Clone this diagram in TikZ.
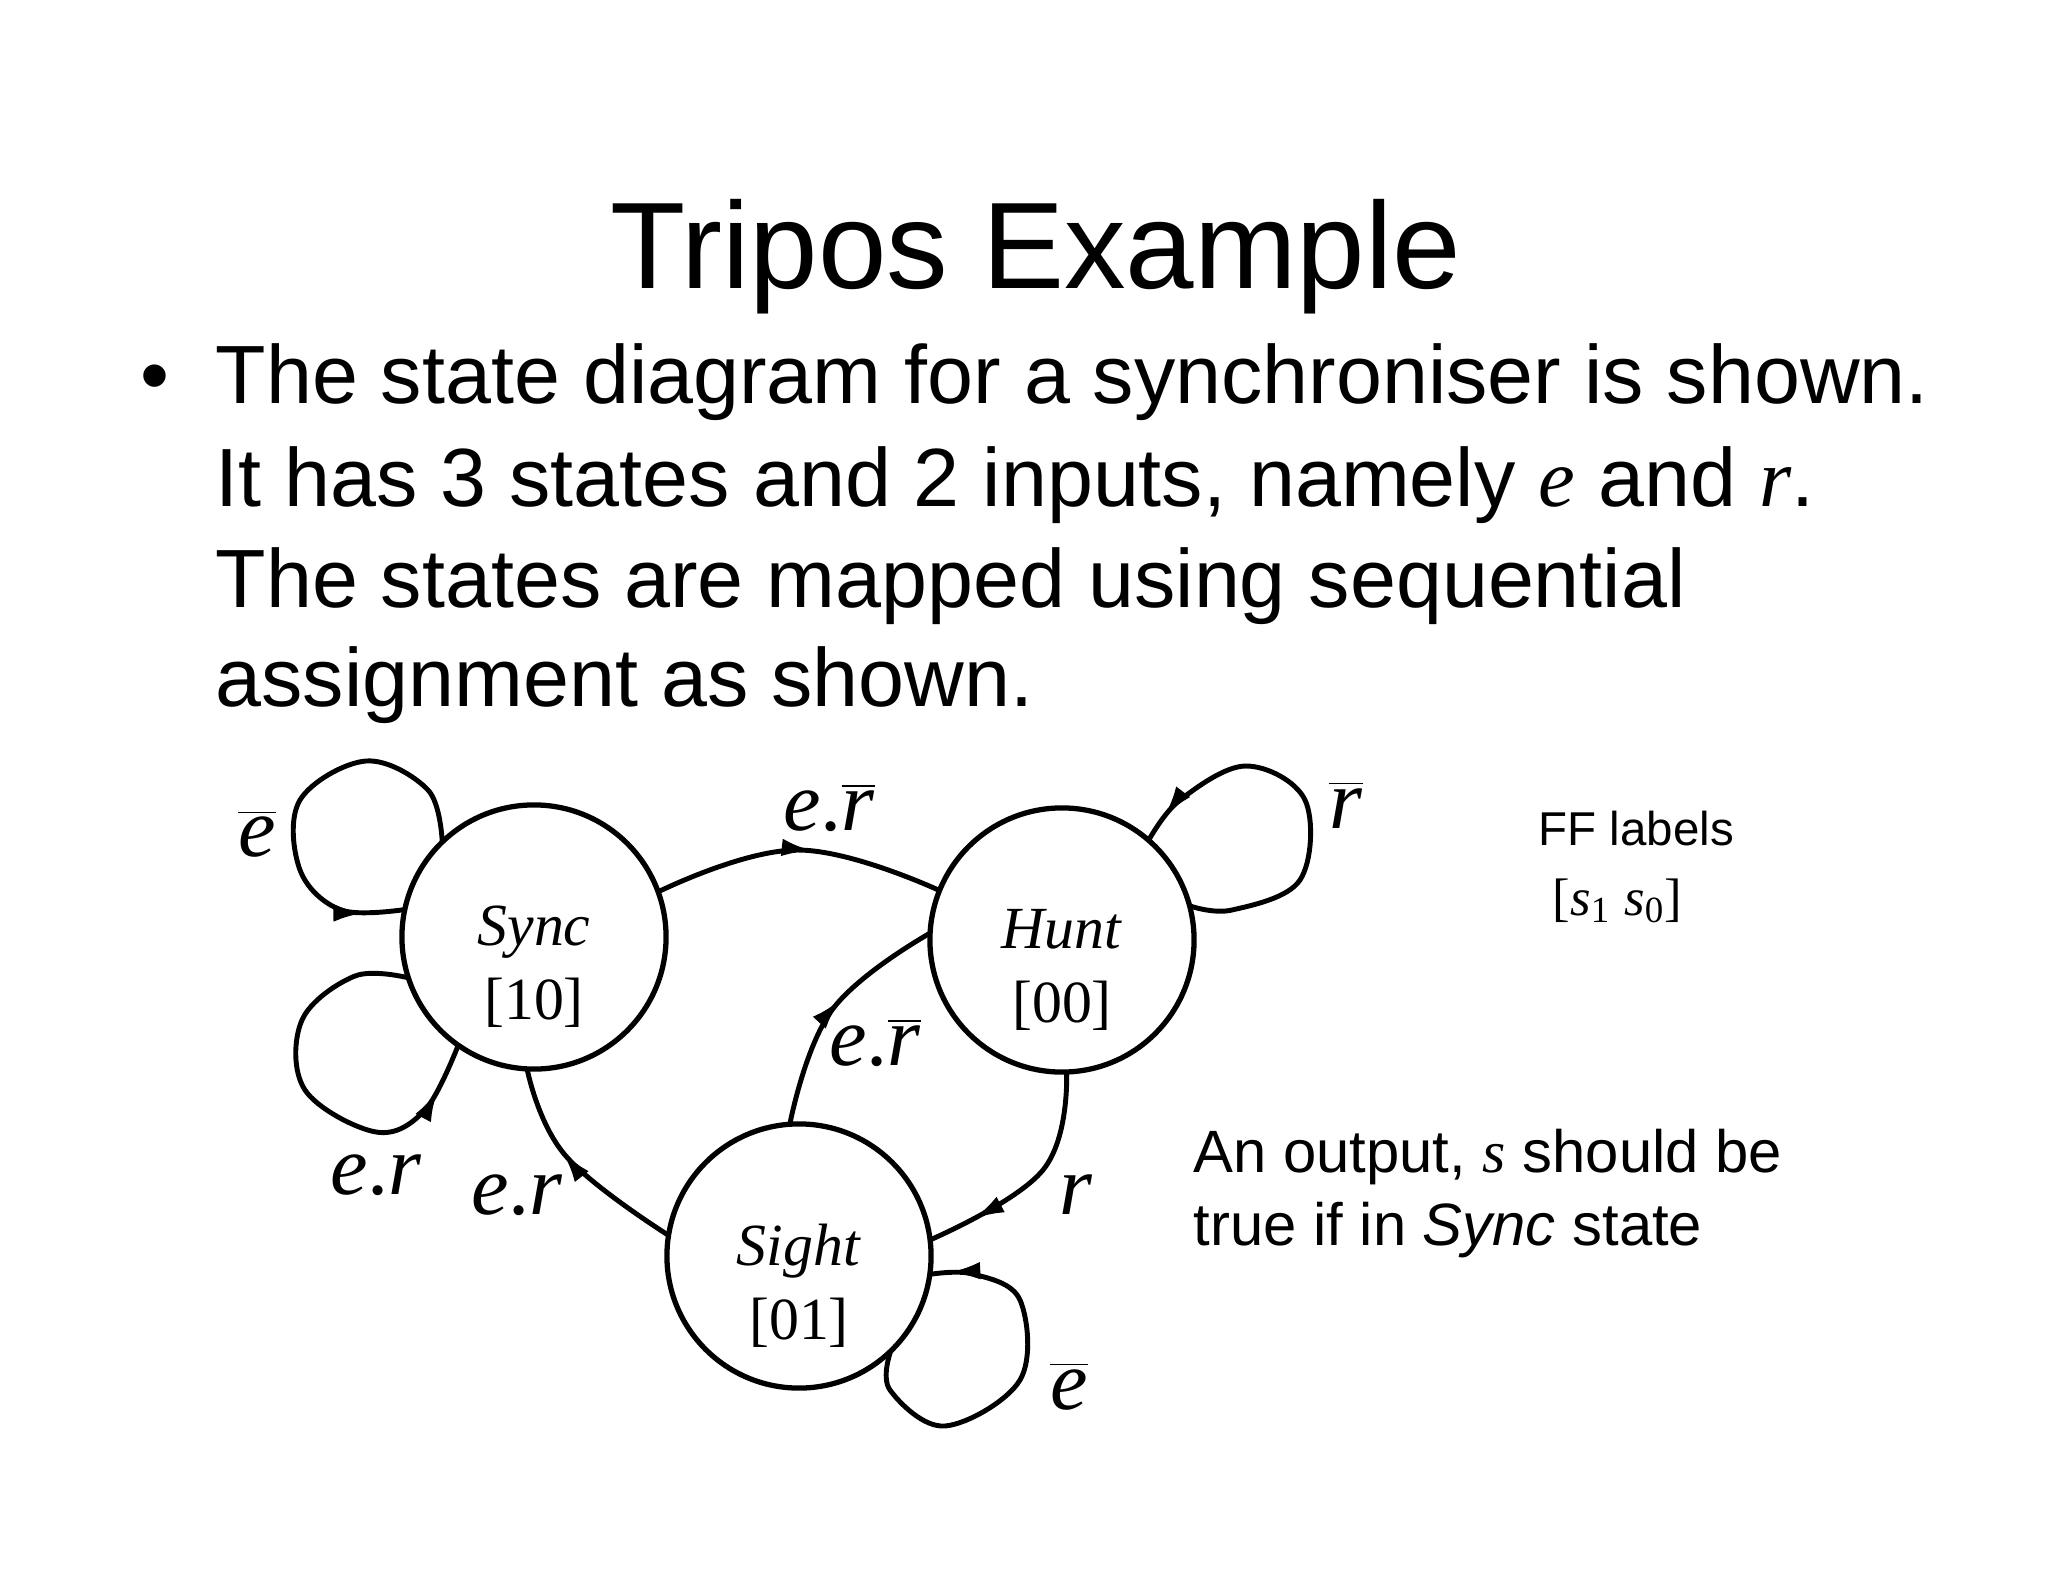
\documentclass[tikz,border=0pt]{standalone}
\usepackage{fontspec}
\setmainfont{Liberation Serif}
\setsansfont{Liberation Sans}
\usetikzlibrary{decorations.markings,arrows.meta}
\newcommand{\ovl}[1]{$\overline{\hbox{\textit{#1}}}$}
\begin{document}
\begin{tikzpicture}[x=0.01cm,y=-0.01cm,
  state/.style={circle,draw,line width=1.5pt,minimum size=2.64cm,inner sep=0,outer sep=0},
  stext/.style={align=center,font=\fontsize{17}{21}\selectfont,yshift=-0.3cm},
  edge/.style={line width=1.4pt,postaction={decorate},decoration={markings,mark=at position #1 with {\arrow{Latex[length=9pt,width=5pt]}}}},
  lab/.style={font=\fontsize{24}{26}\selectfont},
  body/.style={font=\sffamily\fontsize{23.5}{30}\selectfont,anchor=base west,inner sep=0}]
\useasboundingbox (0,0) rectangle (2048,1582);
\node[font=\sffamily\fontsize{35}{44}\selectfont,anchor=base] (title) at (1036,288) {Tripos Example};
\node[body] (bul) at (140,403) {\textbullet};
\node[body] (l1) at (215,403) {The state diagram for a synchroniser is shown.};
\node[body] (l2) at (215,506) {It has 3 states and 2 inputs, namely {\rmfamily\itshape e} and {\rmfamily\itshape r}.};
\node[body] (l3) at (215,607) {The states are mapped using sequential};
\node[body] (l4) at (215,706) {assignment as shown.};
\node[font=\sffamily\fontsize{13.5}{16}\selectfont,anchor=base west,inner sep=0] (ff) at (1538,845) {FF labels};
\node[font=\fontsize{15}{18}\selectfont,anchor=base west,inner sep=0] (ffs) at (1552,915) {[\textit{s}\textsubscript{1} \textit{s}\textsubscript{0}]};
\node[font=\sffamily\fontsize{17}{22}\selectfont,anchor=base west,inner sep=0] (o1) at (1193,1172) {An output, {\rmfamily\itshape s} should be};
\node[font=\sffamily\fontsize{17}{22}\selectfont,anchor=base west,inner sep=0] (o2) at (1193,1245) {true if in \textit{Sync} state};

\node[state] (sync) at (534,937) {};
\node[state] (hunt) at (1062,940) {};
\node[state] (sight) at (799,1256) {};
\node[stext] (synct) at (sync.center) {\textit{Sync}\\{}[10]};
\node[stext] (huntt) at (hunt.center) {\textit{Hunt}\\{}[00]};
\node[stext] (sightt) at (sight.center) {\textit{Sight}\\{}[01]};

% Sync loops
\draw[edge=0.9] plot[smooth,tension=0.6] coordinates {(sync.134) (428,790) (366,761) (300,800) (300,870) (341,910) (sync.168)};
\draw[edge=0.88] plot[smooth,tension=0.6] coordinates {(sync.198) (355,976) (302,1020) (305,1090) (376,1132) (425,1110) (sync.235)};
% Hunt loop
\draw[edge=0.93] plot[smooth,tension=0.6] coordinates {(hunt.15) (1232,910) (1300,880) (1305,800) (1246,766) (1180,800) (hunt.49)};
% Sight loop
\draw[edge=0.95] plot[smooth,tension=0.6] coordinates {(sight.314) (890,1390) (945,1426) (1020,1380) (1020,1300) (973,1274) (sight.352)};
% transitions
\draw[edge=0.55] plot[smooth,tension=0.7] coordinates {(sync.20) (797,850) (hunt.158)};
\draw[edge=0.55] plot[smooth,tension=0.7] coordinates {(sight.94) (832,1010) (hunt.177)};
\draw[edge=0.8] plot[smooth,tension=0.7] coordinates {(hunt.272) (1043,1170) (sight.7)};
\draw[edge=0.6] plot[smooth,tension=0.7] coordinates {(sight.171) (565,1155) (sync.267)};

\node[lab] (l_a) at (257,834) {\ovl{e}};
\node[lab] (l_b) at (829,808) {\textit{e}.\ovl{r}};
\node[lab] (l_c) at (1346,805) {\ovl{r}};
\node[lab] (l_d) at (875,1043) {\textit{e}.\ovl{r}};
\node[lab] (l_e) at (376,1175) {\textit{e}.\textit{r}};
\node[lab] (l_f) at (517,1195) {\textit{e}.\textit{r}};
\node[lab] (l_g) at (1076,1195) {\textit{r}};
\node[lab] (l_h) at (1069,1386) {\ovl{e}};
\end{tikzpicture}
\end{document}
